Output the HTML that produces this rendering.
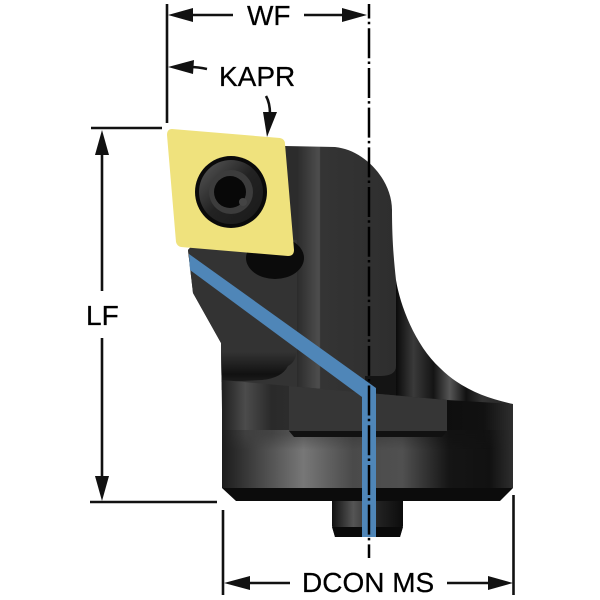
<!DOCTYPE html>
<html><head><meta charset="utf-8"><style>html,body{margin:0;padding:0;background:#fff}svg{display:block}text{font-family:"Liberation Sans",sans-serif;font-size:28px;fill:#000;stroke:#000;stroke-width:.25}</style></head><body>
<svg width="600" height="600" viewBox="0 0 600 600" xmlns="http://www.w3.org/2000/svg">
<defs>
<clipPath id="bodyclip"><path d="M285 146 L335 147 C365 150 392 180 392 210 C392 240 394 262 396 280 C400 305 415 345 440 368 C460 388 485 398 513 404 L513 410 L222 410 L221 343 L193 293 L188 250 Z"/></clipPath>
<linearGradient id="fl" x1="222" x2="513" y1="0" y2="0" gradientUnits="userSpaceOnUse">
<stop offset="0" stop-color="#1f1f1f"/><stop offset=".08" stop-color="#4c4c4c"/><stop offset=".17" stop-color="#2a2a2a"/><stop offset=".35" stop-color="#303030"/><stop offset=".6" stop-color="#2c2c2c"/><stop offset=".76" stop-color="#0e0e0e"/><stop offset=".9" stop-color="#111"/><stop offset="1" stop-color="#2e2e2e"/>
</linearGradient>
<linearGradient id="fl2" x1="222" x2="513" y1="0" y2="0" gradientUnits="userSpaceOnUse">
<stop offset="0" stop-color="#1c1c1c"/><stop offset=".12" stop-color="#444"/><stop offset=".28" stop-color="#777"/><stop offset=".45" stop-color="#4a4a4a"/><stop offset=".62" stop-color="#505050"/><stop offset=".78" stop-color="#151515"/><stop offset=".92" stop-color="#111"/><stop offset="1" stop-color="#2e2e2e"/>
</linearGradient>
<linearGradient id="fade" x1="0" x2="0" y1="434" y2="450" gradientUnits="userSpaceOnUse">
<stop offset="0" stop-color="#999"/><stop offset="1" stop-color="#fff"/>
</linearGradient>
<mask id="fm" maskUnits="userSpaceOnUse" x="200" y="400" width="330" height="100"><rect x="200" y="400" width="330" height="100" fill="url(#fade)"/></mask>
<linearGradient id="mid" x1="285" x2="396" y1="0" y2="0" gradientUnits="userSpaceOnUse">
<stop offset="0" stop-color="#2c2c2c"/><stop offset=".11" stop-color="#2c2c2c"/><stop offset=".31" stop-color="#4e4e4e"/><stop offset=".32" stop-color="#343434"/><stop offset="1" stop-color="#2e2e2e"/>
</linearGradient>
<linearGradient id="rt" x1="396" x2="513" y1="0" y2="0" gradientUnits="userSpaceOnUse">
<stop offset="0" stop-color="#0a0a0a"/><stop offset=".15" stop-color="#3a3a3a"/><stop offset=".32" stop-color="#141414"/><stop offset=".46" stop-color="#555"/><stop offset=".6" stop-color="#111"/><stop offset=".74" stop-color="#333"/><stop offset="1" stop-color="#222"/>
</linearGradient>
<linearGradient id="rec" x1="0" x2="0" y1="352" y2="380" gradientUnits="userSpaceOnUse">
<stop offset="0" stop-color="#333"/><stop offset=".8" stop-color="#111"/><stop offset="1" stop-color="#1a1a1a"/>
</linearGradient>
<linearGradient id="pin" x1="332" x2="403" y1="0" y2="0" gradientUnits="userSpaceOnUse">
<stop offset="0" stop-color="#111"/><stop offset=".3" stop-color="#555"/><stop offset=".65" stop-color="#222"/><stop offset="1" stop-color="#0c0c0c"/>
</linearGradient>
<linearGradient id="scr" x1="0" x2="1" y1="0" y2="1">
<stop offset="0" stop-color="#5a5a5a"/><stop offset=".5" stop-color="#222"/><stop offset="1" stop-color="#1a1a1a"/>
</linearGradient>
</defs>

<!-- upper body -->
<g clip-path="url(#bodyclip)">
<rect x="396" y="200" width="120" height="215" fill="url(#rt)"/>
<rect x="180" y="140" width="216" height="275" fill="url(#mid)"/>
<path d="M180 240 L297 240 L297 390 L180 390 Z" fill="#333"/>
<path d="M180 350 L297 350 Q296 362 288 366 Q282 378 262 380 L221 382 L180 382 Z" fill="url(#rec)"/>
<path d="M365 376 L380 376 Q396 376 396 366 L396 410 L365 410 Z" fill="#141414"/>
</g>
<!-- hole -->
<ellipse cx="275" cy="258" rx="29" ry="21" fill="#0b0b0b"/>
<!-- flange -->
<path d="M222 380 L289 386 L447 400 L513 404 L513 488 L222 488 Z" fill="url(#fl)"/>
<rect x="222" y="430" width="291" height="58" fill="url(#fl2)" mask="url(#fm)"/>
<path d="M289 386 L447 400 L447 431 L442 436 L294 436 L289 431 Z" fill="#363636"/>
<path d="M289 431 L447 431 L442 437 L294 437 Z" fill="#111"/>
<path d="M222 488 L513 488 L500 501 L236 501 Z" fill="#0c0c0c"/>
<!-- pin -->
<path d="M332 501 L403 501 L403 526 L400 537 L335 537 L332 526 Z" fill="url(#pin)"/>
<path d="M332 527 L403 527 L400 537 L335 537 Z" fill="#0a0a0a"/>
<!-- blue -->
<path d="M189 254 L376 388 L376 537 L362 537 L362 397 L190 270 Z" fill="#4f86b8"/>
<!-- insert -->
<path d="M172 129 L280 138 Q285 139 285 144 L294 250 Q294 256 288 256 L181 247 Q177 246 176 242 L167 135 Q167 129 172 129 Z" fill="#efe27d"/>
<circle cx="231" cy="192" r="36" fill="#0a0a0a"/>
<circle cx="231" cy="192" r="32" fill="url(#scr)"/>
<circle cx="231" cy="192" r="22" fill="#3c3c3c"/>
<circle cx="230" cy="192" r="16" fill="#080808"/>
<circle cx="243" cy="202" r="4" fill="#444"/>
<!-- center line -->
<path d="M369 4 V558" stroke="#000" stroke-width="2.5" fill="none" stroke-dasharray="30 3.2 2.5 4" stroke-dashoffset="15.45"/>
<!-- dim lines -->
<g stroke="#111" stroke-width="2.6" fill="none">
<path d="M167 4 V123"/>
<path d="M180 15 H233 M304 15 H350"/>
<path d="M91 128 H162"/>
<path d="M90 502 H217"/>
<path d="M102 145 V291 M102 338 V485"/>
<path d="M223 510 V595 M513.5 495 V595"/>
<path d="M240 583 H290 M447 583 H500"/>
<path d="M190 67 Q198 67 207 69"/>
<path d="M266 96 Q270 103 270 114"/>
</g>
<g fill="#111">
<path d="M168 15 L193 8 L193 22 Z"/>
<path d="M367 15 L342 8 L342 22 Z"/>
<path d="M168 67 L194 60 L193 74 Z"/>
<path d="M267 137 L263 112 L277 112 Z"/>
<path d="M102 130 L95 155 L109 155 Z"/>
<path d="M102 501 L95 476 L109 476 Z"/>
<path d="M224 583 L250 576 L250 590 Z"/>
<path d="M513 583 L488 576 L488 590 Z"/>
</g>
<text x="247" y="25">WF</text>
<text x="219" y="86">KAPR</text>
<text x="86" y="325">LF</text>
<text x="302" y="592">DCON MS</text>
</svg>
</body></html>
